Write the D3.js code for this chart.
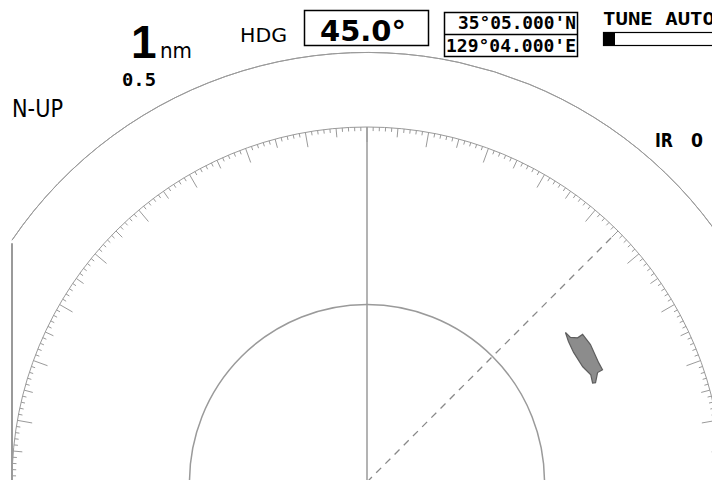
<!DOCTYPE html>
<html><head><meta charset="utf-8">
<script src="https://cdn.jsdelivr.net/npm/d3@7/dist/d3.min.js"></script>
<style>html,body{margin:0;padding:0;background:#fff;overflow:hidden}</style>
</head><body>
<script>
// ---- data ----
const rangeNm = 1;                 // display range
const ringRanges = [0.5];          // range rings (nm)
const bearingRingRange = 1.0;      // bearing scale circle (nm)
const outerRange = 1.21;           // display edge circle (nm)
const heading = 45.0;              // deg
const latText = "35°05.000'N";
const lonText = "129°04.000'E";
const rangeLabel = "1";
const rangeUnit = "nm";
const ringLabel = "0.5";
const modeLabel = "N-UP";
const tuneLabel = "TUNE AUTO";
const tuneLevel = 0.1;
const irLabel = "IR";
const irValue = "0";
// echo outline: [bearing deg, range nm]
const echoBearings = [53.0, 54.6, 55.6, 55.6, 58.4, 62.8, 64.5, 64.6, 66.5, 66.3, 64.4, 61.9, 57.9, 55.1];
const echoRanges   = [0.700, 0.703, 0.719, 0.736, 0.739, 0.734, 0.735, 0.719, 0.702, 0.694, 0.699, 0.689, 0.687, 0.692];

// ---- layout ----
const W = 712, H = 480;
const cx = 367, cy = 482;
const svg = d3.select("body").append("svg").attr("width", W).attr("height", H);
const r = d3.scaleLinear().domain([0, rangeNm]).range([0, 355]);
const deg = d3.scaleLinear().domain([0, 360]).range([0, 2 * Math.PI]);
const g = svg.append("g").attr("transform", `translate(${cx},${cy})`);
const gray = "#9a9a9a";

// outer display circle (left part cut by vertical edge)
const Ro = r(outerRange);
const leftX = 12;
const aLeft = -Math.asin((cx - leftX) / Ro);
g.append("path")
  .attr("d", d3.arc()({innerRadius: Ro, outerRadius: Ro, startAngle: aLeft, endAngle: deg(100)}))
  .attr("fill", "none").attr("stroke", gray).attr("stroke-width", 1);
const yLeft = cy - Ro * Math.cos(aLeft);
svg.append("line").attr("x1", leftX).attr("x2", leftX).attr("y1", yLeft + 3).attr("y2", H)
  .attr("stroke", gray).attr("stroke-width", 2);

// bearing ring
const Rb = r(bearingRingRange);
g.append("circle").attr("r", Rb).attr("fill", "none").attr("stroke", gray).attr("stroke-width", 1);
const tickDeg = d3.range(0, 360, 1);
g.selectAll("line.tick").data(tickDeg).join("line").attr("class", "tick")
  .each(function(d) {
    const len = d % 10 === 0 ? 15 : (d % 5 === 0 ? 9 : 4);
    const a = deg(d);
    d3.select(this)
      .attr("x1", Rb * Math.sin(a)).attr("y1", -Rb * Math.cos(a))
      .attr("x2", (Rb - len) * Math.sin(a)).attr("y2", -(Rb - len) * Math.cos(a));
  })
  .attr("stroke", gray).attr("stroke-width", 1);

// range rings
g.selectAll("circle.ring").data(ringRanges).join("circle").attr("class", "ring")
  .attr("r", d => r(d)).attr("fill", "none").attr("stroke", gray).attr("stroke-width", 1.5);

// north line
g.append("line").attr("x1", 0).attr("y1", 0).attr("x2", 0).attr("y2", -Rb)
  .attr("stroke", gray).attr("stroke-width", 1.5);

// heading line (dashed)
const ah = deg(heading);
const Rh = Rb - 9;
g.append("line").attr("x1", 0).attr("y1", 0)
  .attr("x2", Rh * Math.sin(ah)).attr("y2", -Rh * Math.cos(ah))
  .attr("stroke", "#888").attr("stroke-width", 1.3).attr("stroke-dasharray", "7,6");

// echo
const echo = echoBearings.map((b, i) => [deg(b), r(echoRanges[i])]);
g.append("path")
  .attr("d", d3.lineRadial().curve(d3.curveLinearClosed)(echo))
  .attr("fill", "#8c8c8c").attr("stroke", "#5e5e5e").attr("stroke-width", 1.2);

// ---- texts ----
const sans = "DejaVu Sans, sans-serif";
const mono = "DejaVu Sans Mono, monospace";
svg.append("text").attr("x", 131).attr("y", 58).text(rangeLabel)
  .attr("font-family", "Liberation Sans, Arial, sans-serif").attr("font-weight", "bold").attr("font-size", 46);
svg.append("text").attr("x", 160).attr("y", 58).text(rangeUnit)
  .attr("font-family", sans).attr("font-size", 21).attr("textLength", 32).attr("lengthAdjust", "spacingAndGlyphs");
svg.append("text").attr("x", 122).attr("y", 86).text(ringLabel)
  .attr("font-family", mono).attr("font-weight", "bold").attr("font-size", 18).attr("textLength", 34).attr("lengthAdjust", "spacingAndGlyphs");
svg.append("text").attr("x", 12).attr("y", 117).text(modeLabel)
  .attr("font-family", sans).attr("font-size", 24).attr("textLength", 51).attr("lengthAdjust", "spacingAndGlyphs");
svg.append("text").attr("x", 240).attr("y", 42).text("HDG")
  .attr("font-family", sans).attr("font-size", 20).attr("textLength", 47).attr("lengthAdjust", "spacingAndGlyphs");
svg.append("rect").attr("x", 304.5).attr("y", 10.5).attr("width", 124).attr("height", 35)
  .attr("fill", "none").attr("stroke", "#000").attr("stroke-width", 1.5);
svg.append("text").attr("x", 320).attr("y", 41).text(d3.format(".1f")(heading) + "°")
  .attr("font-family", sans).attr("font-weight", "bold").attr("font-size", 28)
  .attr("textLength", 86).attr("lengthAdjust", "spacingAndGlyphs");

// lat/lon box
svg.append("rect").attr("x", 444.5).attr("y", 12.5).attr("width", 133).attr("height", 44)
  .attr("fill", "none").attr("stroke", "#000").attr("stroke-width", 1.5);
svg.append("line").attr("x1", 444.5).attr("x2", 577.5).attr("y1", 34.5).attr("y2", 34.5)
  .attr("stroke", "#000").attr("stroke-width", 1.5);
svg.append("text").attr("x", 458).attr("y", 29).text(latText)
  .attr("font-family", mono).attr("font-weight", "bold").attr("font-size", 17)
  .attr("textLength", 118).attr("lengthAdjust", "spacingAndGlyphs");
svg.append("text").attr("x", 446).attr("y", 52).text(lonText)
  .attr("font-family", mono).attr("font-weight", "bold").attr("font-size", 17)
  .attr("textLength", 130).attr("lengthAdjust", "spacingAndGlyphs");

// tune
svg.append("text").attr("x", 603).attr("y", 25).text(tuneLabel)
  .attr("font-family", mono).attr("font-weight", "bold").attr("font-size", 17)
  .attr("textLength", 112).attr("lengthAdjust", "spacingAndGlyphs");
const tuneX = d3.scaleLinear().domain([0, 1]).range([603, 723]);
svg.append("rect").attr("x", 603.5).attr("y", 32.5).attr("width", 130).attr("height", 13)
  .attr("fill", "none").attr("stroke", "#000").attr("stroke-width", 1.2);
svg.append("rect").attr("x", tuneX(0)).attr("y", 32).attr("width", tuneX(tuneLevel) - tuneX(0)).attr("height", 14)
  .attr("fill", "#000");

// IR
svg.append("text").attr("x", 655).attr("y", 147).text(irLabel)
  .attr("font-family", sans).attr("font-weight", "bold").attr("font-size", 19)
  .attr("textLength", 18).attr("lengthAdjust", "spacingAndGlyphs");
svg.append("text").attr("x", 691).attr("y", 147).text(irValue)
  .attr("font-family", sans).attr("font-weight", "bold").attr("font-size", 19)
  .attr("textLength", 12).attr("lengthAdjust", "spacingAndGlyphs");
</script>
</body></html>
